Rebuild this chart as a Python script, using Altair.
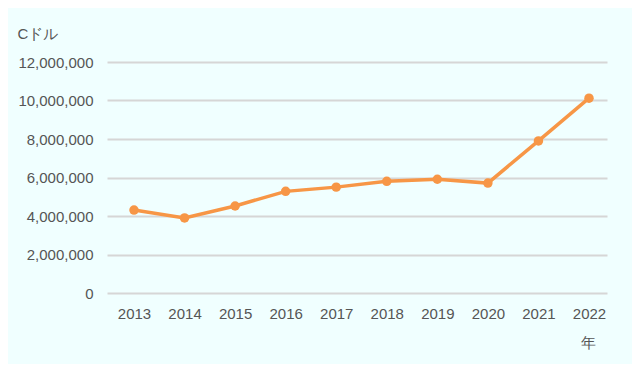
import altair as alt
import pandas as pd

years = ["2013", "2014", "2015", "2016", "2017", "2018", "2019", "2020", "2021", "2022"]
values = [4310000, 3900000, 4520000, 5280000, 5500000, 5800000, 5910000, 5710000, 7900000, 10120000]
y_ticks = [0, 2000000, 4000000, 6000000, 8000000, 10000000, 12000000]

df = pd.DataFrame({"year": years, "value": values})

FONT = "Liberation Sans"
ORANGE = "#f79646"

x = alt.X(
    "year:O",
    scale=alt.Scale(type="point", padding=0.445, align=0.6),
    axis=alt.Axis(
        title="年", titleX=481, titleY=49, titleAlign="center", titleBaseline="middle",
        titleFont=FONT, titleFontSize=15, titleFontWeight="normal", titleColor="#555555",
        labelFont=FONT, labelFontSize=15, labelColor="#555555", labelAngle=0,
        labelPadding=13, ticks=False, domain=False, grid=False,
    ),
)
y = alt.Y(
    "value:Q",
    scale=alt.Scale(domain=[0, 12000000], nice=False, zero=True),
    axis=alt.Axis(
        values=y_ticks, format=",d",
        title="Cドル", titleAngle=0, titleX=-90, titleY=-24, titleAlign="left",
        titleBaseline="alphabetic", titleFont=FONT, titleFontSize=15,
        titleFontWeight="normal", titleColor="#555555",
        labelFont=FONT, labelFontSize=15, labelColor="#555555", labelPadding=14,
        ticks=False, domain=False, grid=True, gridColor="#d6d6d6", gridWidth=2,
    ),
)

base = alt.Chart(df).encode(x=x, y=y)
line = base.mark_line(color=ORANGE, strokeWidth=3.5)
pts = base.mark_circle(color=ORANGE, size=90, opacity=1)

chart = (
    (line + pts)
    .properties(
        width=500, height=231,
        autosize=alt.AutoSizeParams(type="none"),
        padding={"left": 99, "top": 54, "right": 25, "bottom": 71},
        background="#f0ffff",
    )
    .configure_view(stroke=None)
)

chart.save("out.html", embed_options={"renderer": "svg", "actions": False})
